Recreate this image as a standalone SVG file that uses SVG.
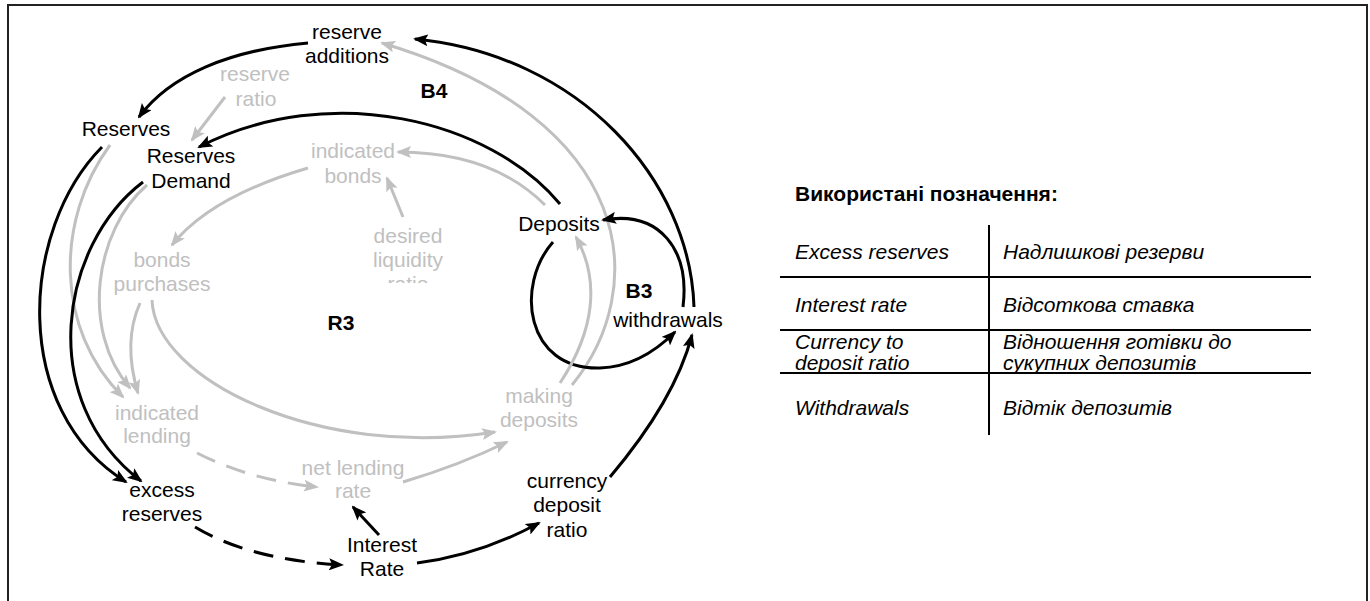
<svg xmlns="http://www.w3.org/2000/svg" width="1370" height="601" viewBox="0 0 1370 601">
<style>
.t{font-family:"Liberation Sans",Arial,sans-serif;font-size:21px;text-anchor:middle;fill:#000}
.g{fill:#c0c0c0}
.b{font-weight:bold}
.lg{font-family:"Liberation Sans",Arial,sans-serif;font-size:21px;font-style:italic;fill:#000}
.lt{font-family:"Liberation Sans",Arial,sans-serif;font-size:21px;font-weight:bold;fill:#000}
.cb{fill:none;stroke:#000;stroke-width:3}
.cg{fill:none;stroke:#c0c0c0;stroke-width:3}
.ab{marker-end:url(#mb)}
.ag{marker-end:url(#mg)}
.d{stroke-dasharray:20 12}
.tl{stroke:#000;stroke-width:2}
</style>
<defs>
<marker id="mb" markerWidth="15" markerHeight="12" refX="13" refY="6" orient="auto" markerUnits="userSpaceOnUse"><path d="M0,0 L15,6 L0,12 L3,6 z" fill="#000"/></marker>
<marker id="mg" markerWidth="15" markerHeight="12" refX="13" refY="6" orient="auto" markerUnits="userSpaceOnUse"><path d="M0,0 L15,6 L0,12 L3,6 z" fill="#c0c0c0"/></marker>
<clipPath id="clipDLR"><rect x="350" y="220" width="120" height="63"/></clipPath>
</defs>
<rect x="8" y="5" width="1359" height="620" fill="#fff" stroke="#222" stroke-width="2"/>
<g id="connectors">
<path class="cb ab" d="M694,307 C690,180 580,55 415,39"/>
<path class="cg ag" d="M572,385 C650,290 640,120 382,43"/>
<path class="cb ab" d="M560,204 C490,120 330,80 199,147"/>
<path class="cg ag" d="M545,205 C510,170 460,152 398,152"/>
<path class="cg ag" d="M308,168 C250,185 200,210 172,245"/>
<path class="cg ag" d="M403,217 L387,178"/>
<path class="cg ag" d="M225,97 L192,140"/>
<path class="cb ab" d="M308,43 C230,50 170,75 139,117"/>
<path class="cg ag" d="M110,145 C55,220 55,330 123,397"/>
<path class="cg ag" d="M147,185 C95,230 80,330 130,388"/>
<path class="cb ab" d="M102,147 C20,230 10,410 126,482"/>
<path class="cb ab" d="M143,182 C60,245 35,400 141,481"/>
<path class="cg ag" d="M140,303 C128,330 128,360 138,393"/>
<path class="cg ag" d="M152,300 C155,380 320,460 495,432"/>
<path class="cg ag d" d="M197,453 Q250,480 317,487"/>
<path class="cb ab d" d="M195,527 Q250,560 342,565"/>
<path class="cg ag" d="M403,482 Q460,465 507,442"/>
<path class="cb ab" d="M379,535 L353,507"/>
<path class="cb ab" d="M417,563 Q480,555 539,523"/>
<path class="cb ab" d="M610,477 Q675,400 692,335"/>
<path class="cb ab" d="M553,242 C515,285 525,370 600,368 C630,367 655,352 675,332"/>
<path class="cb ab" d="M683,307 C690,250 660,210 603,220"/>
<path class="cg ag" d="M560,383 C595,330 600,280 576,237"/>
</g>
<g id="reserve_additions"><text class="t" x="347" y="39">reserve</text><text class="t" x="347" y="63">additions</text></g>
<g id="reserve_ratio"><text class="t g" x="255" y="81">reserve</text><text class="t g" x="256" y="106">ratio</text></g>
<g id="Reserves"><text class="t" x="126" y="136">Reserves</text></g>
<g id="Reserves_Demand"><text class="t" x="191" y="163">Reserves</text><text class="t" x="191" y="188">Demand</text></g>
<g id="indicated_bonds"><text class="t g" x="353" y="158">indicated</text><text class="t g" x="353" y="183">bonds</text></g>
<g id="desired_liquidity_ratio" clip-path="url(#clipDLR)"><text class="t g" x="408" y="243">desired</text><text class="t g" x="408" y="267">liquidity</text><text class="t g" x="408" y="291">ratio</text></g>
<g id="bonds_purchases"><text class="t g" x="162" y="267">bonds</text><text class="t g" x="162" y="291">purchases</text></g>
<g id="Deposits"><text class="t" x="559" y="231">Deposits</text></g>
<g id="withdrawals"><text class="t" x="668" y="327">withdrawals</text></g>
<g id="making_deposits"><text class="t g" x="539" y="403">making</text><text class="t g" x="539" y="427">deposits</text></g>
<g id="indicated_lending"><text class="t g" x="157" y="420">indicated</text><text class="t g" x="157" y="443">lending</text></g>
<g id="net_lending_rate"><text class="t g" x="353" y="475">net lending</text><text class="t g" x="353" y="498">rate</text></g>
<g id="excess_reserves"><text class="t" x="162" y="497">excess</text><text class="t" x="162" y="521">reserves</text></g>
<g id="Interest_Rate"><text class="t" x="382" y="552">Interest</text><text class="t" x="382" y="576">Rate</text></g>
<g id="currency_deposit_ratio"><text class="t" x="567" y="488">currency</text><text class="t" x="567" y="512">deposit</text><text class="t" x="567" y="537">ratio</text></g>
<g id="loop_labels"><text class="t b" x="434" y="98">B4</text><text class="t b" x="341" y="330">R3</text><text class="t b" x="639" y="298">B3</text></g>
<g id="legend">
<text class="lt" x="795" y="201">Використані позначення:</text>
<line class="tl" x1="989" y1="225" x2="989" y2="435"/>
<line class="tl" x1="780" y1="277" x2="1311" y2="277"/>
<line class="tl" x1="780" y1="330" x2="1311" y2="330"/>
<line class="tl" x1="780" y1="373" x2="1311" y2="373"/>
<text class="lg" x="795" y="259">Excess reserves</text>
<text class="lg" x="1003" y="259">Надлишкові резерви</text>
<text class="lg" x="795" y="312">Interest rate</text>
<text class="lg" x="1003" y="312">Відсоткова ставка</text>
<text class="lg" x="795" y="349">Currency to</text>
<text class="lg" x="795" y="370">deposit ratio</text>
<text class="lg" x="1003" y="349">Відношення готівки до</text>
<text class="lg" x="1003" y="370">сукупних депозитів</text>
<text class="lg" x="795" y="415">Withdrawals</text>
<text class="lg" x="1003" y="415">Відтік депозитів</text>
</g>
</svg>
